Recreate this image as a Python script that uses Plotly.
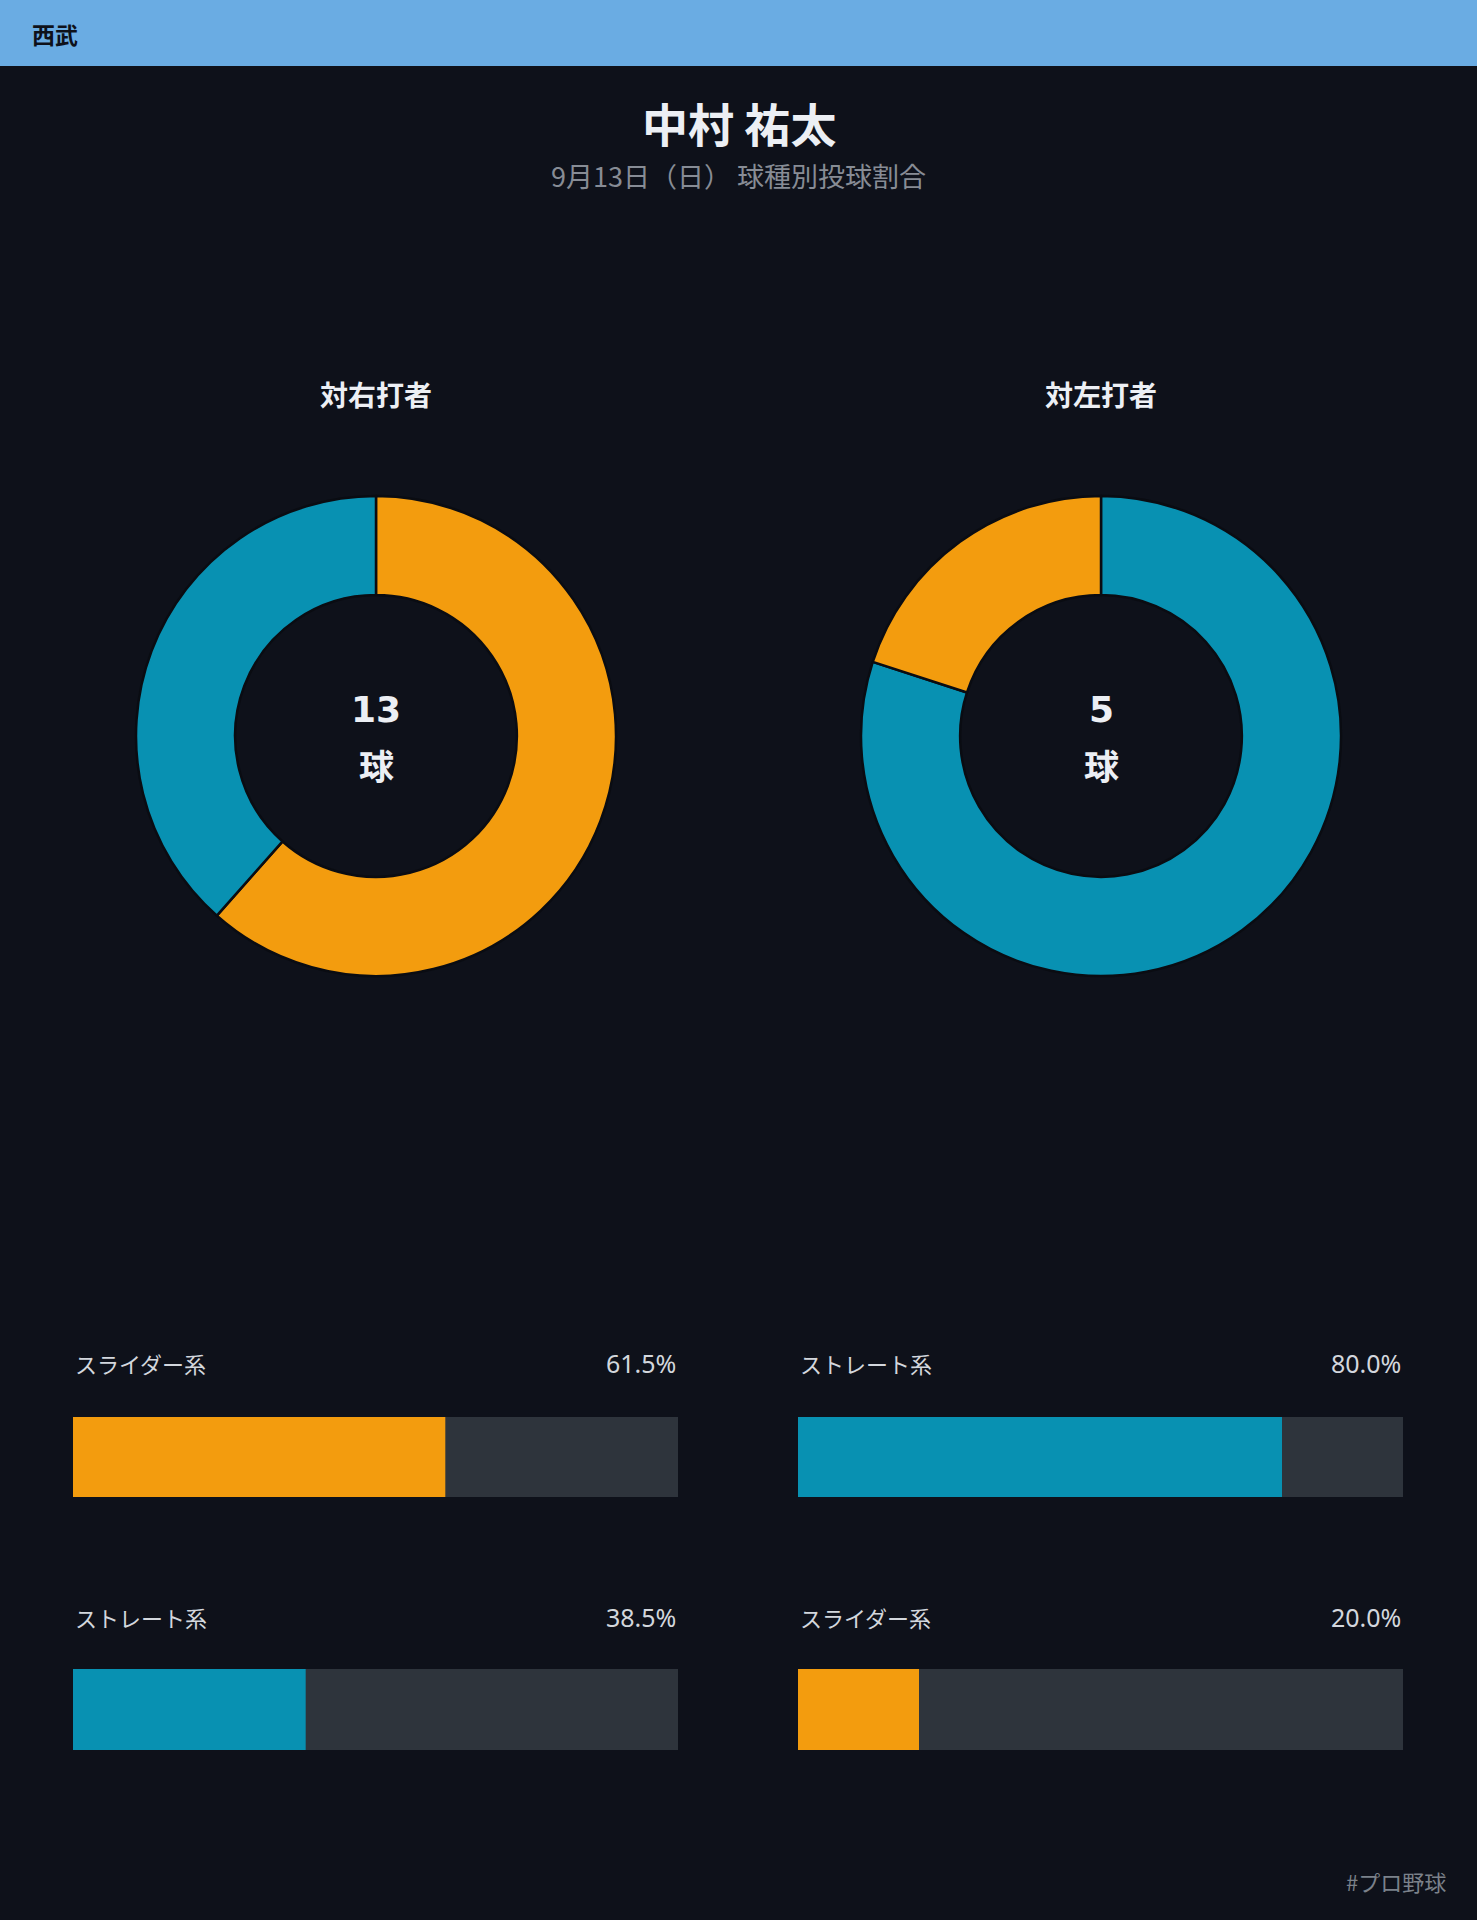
import plotly.graph_objects as go

# ---------------- data ----------------
team = "西武"
pitcher = "中村 祐太"
subtitle = "9月13日（日） 球種別投球割合"
footer = "#プロ野球"
groups = ["対右打者", "対左打者"]
types_right = ["スライダー系", "ストレート系"]
counts_right = [8, 5]
types_left = ["ストレート系", "スライダー系"]
counts_left = [4, 1]
type_colors = {"スライダー系": "#f39c0e", "ストレート系": "#0891b2"}

# ---------------- style ----------------
W, H = 1477, 1920
BG = "#0e111a"
TRACK = "#2e343c"
FONT = "Noto Sans CJK JP"
NUMFONT = "Noto Sans, Noto Sans CJK JP"


def px(x):
    return x / W


def py(y):
    return 1 - y / H


fig = go.Figure()

annotations = []
shapes = [dict(type="rect", xref="paper", yref="paper", x0=0, x1=1, y0=py(66), y1=1,
               fillcolor="#6aace3", line_width=0, layer="below")]

annotations.append(dict(text=f"<b>{team}</b>", x=px(30), y=py(34), xref="paper", yref="paper",
                        xanchor="left", yanchor="middle", showarrow=False,
                        font=dict(family=FONT, size=23, color="#0e111a")))
annotations.append(dict(text=f"<b>{pitcher}</b>", x=0.5, y=py(122), xref="paper", yref="paper",
                        xanchor="center", yanchor="middle", showarrow=False,
                        font=dict(family=FONT, size=46, color="#eceff4")))
annotations.append(dict(text=subtitle, x=0.5, y=py(175), xref="paper", yref="paper",
                        xanchor="center", yanchor="middle", showarrow=False,
                        font=dict(family=FONT, size=27, color="#878c95")))
annotations.append(dict(text=footer, x=px(1448), y=py(1881), xref="paper", yref="paper",
                        xanchor="right", yanchor="middle", showarrow=False,
                        font=dict(family=FONT, size=22, color="#7b818a")))

centers = [376, 1101]
cy, R = 736, 240
datasets = [(types_right, counts_right), (types_left, counts_left)]
bar_x = [(73, 678), (798, 1403)]
bar_rows = [(1417, 1497), (1669, 1750)]
label_rows = [1363, 1617]

ax_i = 0
for gi, (types, counts) in enumerate(datasets):
    cx = centers[gi]
    total = sum(counts)
    fig.add_trace(go.Pie(
        labels=types, values=counts, sort=False, direction="clockwise", rotation=0,
        hole=0.587, textinfo="none", hoverinfo="skip", showlegend=False,
        marker=dict(colors=[type_colors[t] for t in types], line=dict(color="#0a0c12", width=2.5)),
        domain=dict(x=[px(cx - R), px(cx + R)], y=[py(cy + R), py(cy - R)]),
    ))
    annotations.append(dict(text=f"<b>{groups[gi]}</b>", x=px(cx), y=py(394), xref="paper", yref="paper",
                            xanchor="center", yanchor="middle", showarrow=False,
                            font=dict(family=FONT, size=28, color="#eceff4")))
    annotations.append(dict(text=f"<b>{total}</b>", x=px(cx), y=py(709), xref="paper", yref="paper",
                            xanchor="center", yanchor="middle", showarrow=False,
                            font=dict(family="DejaVu Sans, " + FONT, size=36, color="#eceff4")))
    annotations.append(dict(text="<b>球</b>", x=px(cx), y=py(764), xref="paper", yref="paper",
                            xanchor="center", yanchor="middle", showarrow=False,
                            font=dict(family=FONT, size=35, color="#eceff4")))

    for ri, (t, c) in enumerate(zip(types, counts)):
        ax_i += 1
        pct = c / total * 100
        xa = "x" if ax_i == 1 else f"x{ax_i}"
        ya = "y" if ax_i == 1 else f"y{ax_i}"
        fig.add_trace(go.Bar(x=[100], y=[0], orientation="h", width=1, marker=dict(color=TRACK, line_width=0),
                             xaxis=xa, yaxis=ya, hoverinfo="skip", showlegend=False))
        fig.add_trace(go.Bar(x=[pct], y=[0], orientation="h", width=1,
                             marker=dict(color=type_colors[t], line_width=0),
                             xaxis=xa, yaxis=ya, hoverinfo="skip", showlegend=False))
        x0, x1 = bar_x[gi]
        y0, y1 = bar_rows[ri]
        key = "" if ax_i == 1 else str(ax_i)
        fig.update_layout(**{
            f"xaxis{key}": dict(domain=[px(x0), px(x1)], range=[0, 100], visible=False, fixedrange=True,
                                anchor=ya),
            f"yaxis{key}": dict(domain=[py(y1), py(y0)], range=[-0.5, 0.5], visible=False, fixedrange=True,
                                anchor=xa),
        })
        annotations.append(dict(text=t, x=px(x0), y=py(label_rows[ri]), xref="paper", yref="paper",
                                xanchor="left", yanchor="middle", showarrow=False,
                                font=dict(family=FONT, size=22, color="#d3d7dd")))
        annotations.append(dict(text=f"{pct:.1f}%", x=px(x1), y=py(label_rows[ri]), xref="paper", yref="paper",
                                xanchor="right", yanchor="middle", showarrow=False,
                                font=dict(family=NUMFONT, size=25, color="#d3d7dd")))

fig.update_layout(
    width=W, height=H, margin=dict(l=0, r=0, t=0, b=0),
    paper_bgcolor=BG, plot_bgcolor=BG, barmode="overlay",
    annotations=annotations, shapes=shapes, showlegend=False,
    font=dict(family=FONT),
)

fig.write_html("out.html", config={"displayModeBar": False},
               post_script="document.body.style.margin='0';document.body.style.background='#0e111a';")
